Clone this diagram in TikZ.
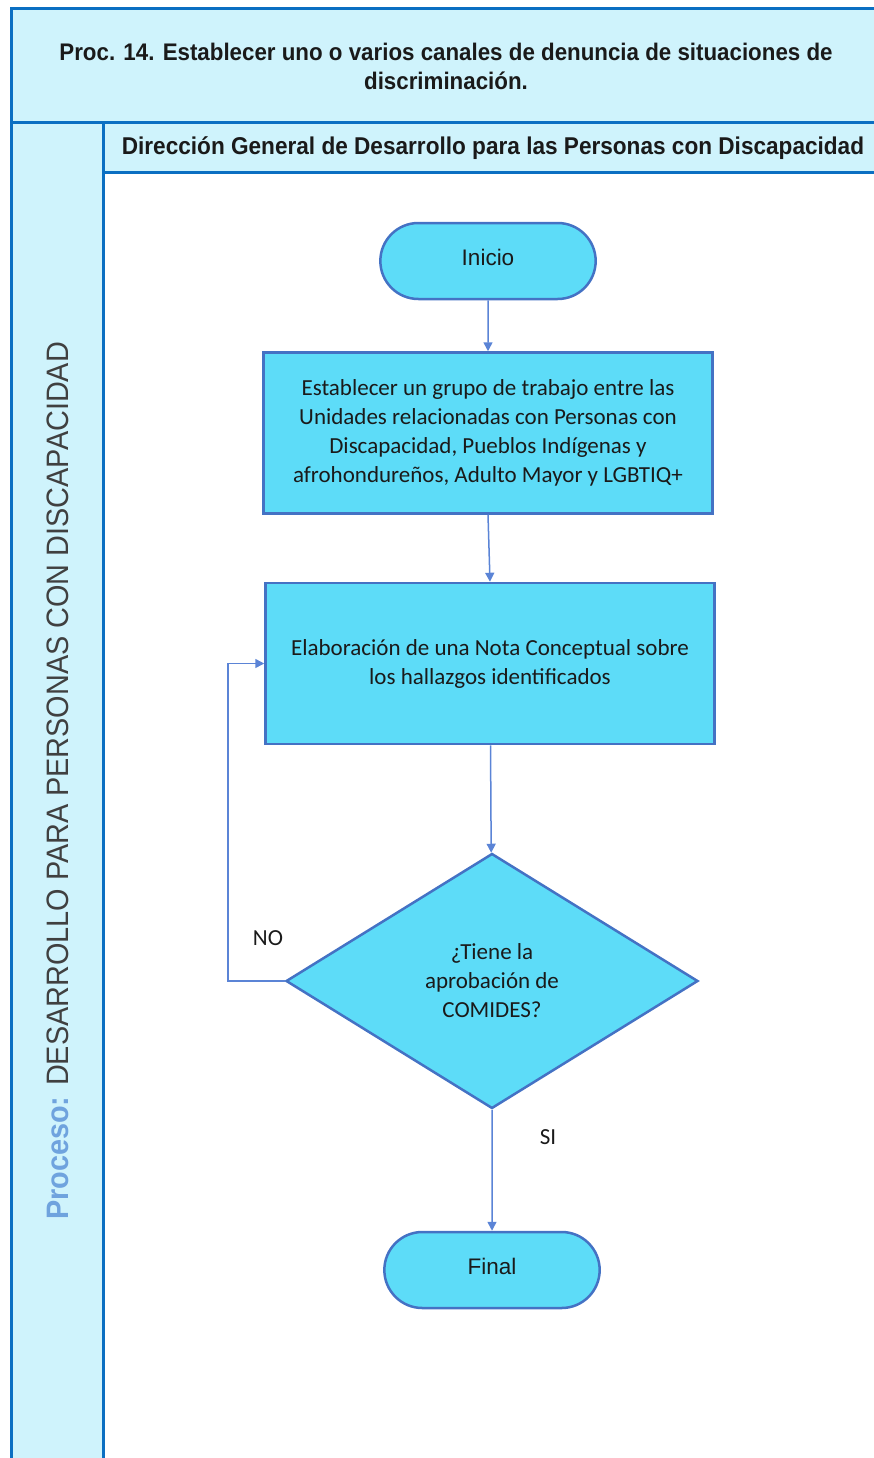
\documentclass[tikz,border=0pt]{standalone}
\usepackage{fontspec}
\setmainfont{Liberation Sans}
\newfontfamily\narrowfont[FakeStretch=0.93]{Liberation Sans}
\newfontfamily\bodyfont{Carlito}
\usetikzlibrary{arrows.meta,positioning,shapes.geometric,shapes.misc}
\definecolor{lanefill}{HTML}{CFF3FC}
\definecolor{laneline}{HTML}{0B6FC2}
\definecolor{stepfill}{HTML}{5DDCF8}
\definecolor{stepline}{HTML}{4472C4}
\definecolor{flowline}{HTML}{5B84D6}
\definecolor{ink}{HTML}{1A1A1A}
\definecolor{procblue}{HTML}{6FA3DE}
\definecolor{labelgrey}{HTML}{404040}
\tikzset{
  lane/.style={draw=laneline,fill=lanefill,line width=3pt},
  terminal/.style={rounded rectangle,draw=stepline,fill=stepfill,line width=2.5pt,minimum width=222pt,minimum height=76pt,font=\fontsize{22.5}{26}\selectfont,text=ink},
  process/.style={rectangle,draw=stepline,fill=stepfill,line width=2.5pt,minimum width=449pt,minimum height=161pt,align=center,font=\bodyfont\fontsize{23}{29}\selectfont,text=ink},
  decision/.style={diamond,draw=stepline,fill=stepfill,line width=2.5pt,minimum width=412pt,minimum height=255pt,inner sep=0pt,align=center,font=\bodyfont\fontsize{23}{29}\selectfont,text=ink},
  flow/.style={-{Triangle[length=9pt,width=9pt]},line width=1.5pt,draw=flowline},
  tag/.style={font=\bodyfont\fontsize{23}{26}\selectfont,text=ink}
}

\begin{document}
\begin{tikzpicture}[x=1pt,y=-1pt]
    \useasboundingbox (0,0) rectangle (873,1458);
    % pool and lanes
    \draw[lane] (11,9) rectangle (890,123);
    \draw[lane] (11,123) rectangle (103,1470);
    \draw[lane] (103,123) rectangle (890,173);
    \draw[laneline,line width=3pt] (103,173) -- (103,1470);
    \node[font=\narrowfont\bfseries\fontsize{24}{29}\selectfont,align=center,text=ink] (title) at (446,66)
      {Proc. 14. Establecer uno o varios canales de denuncia de situaciones de\\discriminación.};
    \node[font=\narrowfont\bfseries\fontsize{24.3}{28}\selectfont,text=ink] (lanehead) at (493,148)
      {Dirección General de Desarrollo para las Personas con Discapacidad};
    \node[rotate=90,font=\narrowfont\fontsize{31}{36}\selectfont,text=labelgrey] (lanename) at (58,781)
      {\textcolor{procblue}{\bfseries Proceso:} DESARROLLO PARA PERSONAS CON DISCAPACIDAD};
    % flow
    \node[terminal] (inicio) at (488,261) {\raisebox{8pt}{Inicio}};
    \node[process,below=51pt of inicio] (grupo)
      {Establecer un grupo de trabajo entre las\\Unidades relacionadas con Personas con\\Discapacidad, Pueblos Indígenas y\\afrohondureños, Adulto Mayor y LGBTIQ+};
    \node[process,below=67pt of grupo,xshift=2pt] (nota)
      {Elaboración de una Nota Conceptual sobre\\los hallazgos identificados};
    \node[decision,below=107pt of nota,xshift=2pt] (aprob)
      {¿Tiene la\\aprobación de\\COMIDES?};
    \node[terminal,below=121pt of aprob] (final) {\raisebox{8pt}{Final}};
    \draw[flow] (inicio) -- (grupo);
    \draw[flow] (grupo.south) -- (nota.north);
    \draw[flow] (nota) -- (aprob);
    \draw[flow] (aprob) -- (final);
    \draw[flow] (aprob.west) -- ++(-57,0) |- (nota.west);
    \node[tag] (no) at (268,938) {NO};
    \node[tag] (si) at (548,1137) {SI};
  \end{tikzpicture}
\end{document}
